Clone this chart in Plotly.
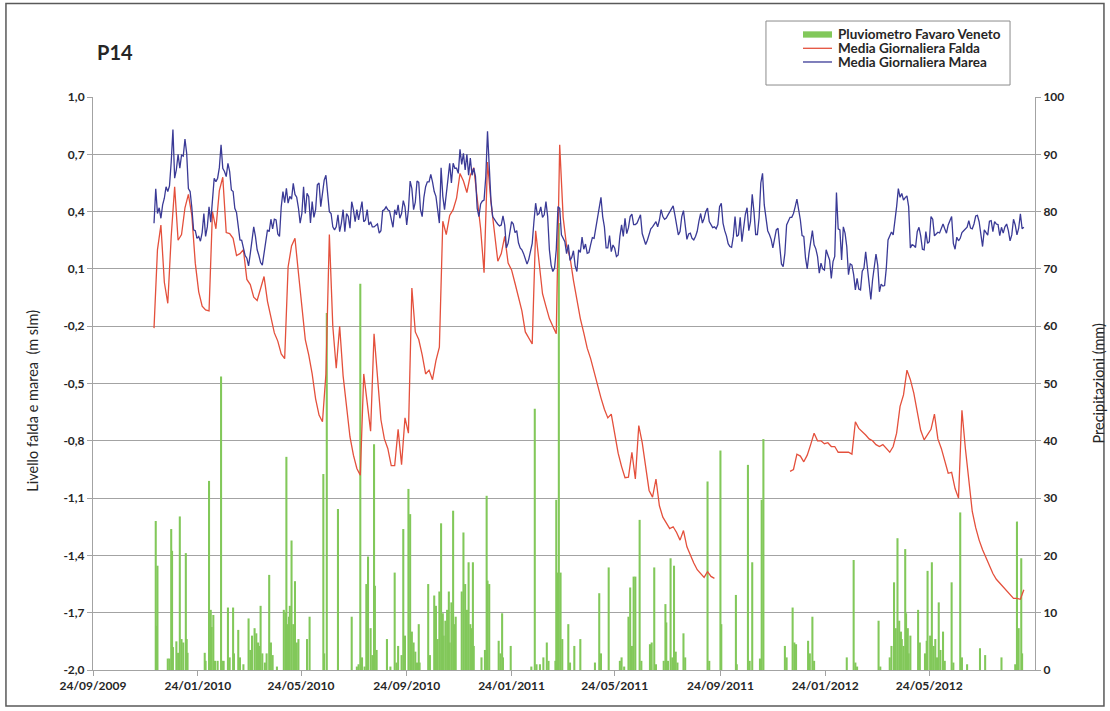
import pandas as pd
import plotly.graph_objects as go

# ---- data -------------------------------------------------------------
origine = pd.Timestamp("2009-09-24")
inizio_serie = pd.Timestamp("2009-12-04")

# Media giornaliera marea (m slm), one value every 2 days from 04/12/2009
marea = [
    0.339, 0.52, 0.39, 0.42, 0.365, 0.435, 0.47, 0.53, 0.505, 0.535,
    0.66, 0.83, 0.575, 0.62, 0.70, 0.627, 0.696, 0.69, 0.78, 0.705,
    0.52, 0.505, 0.42, 0.305, 0.30, 0.26, 0.27, 0.245, 0.29, 0.39,
    0.27, 0.32, 0.425, 0.345, 0.46, 0.575, 0.557, 0.575, 0.63, 0.75,
    0.627, 0.61, 0.583, 0.653, 0.61, 0.513, 0.505, 0.417, 0.395, 0.33,
    0.252, 0.25, 0.20, 0.17, 0.156, 0.116, 0.18, 0.26, 0.32, 0.27,
    0.20, 0.17, 0.133, 0.12, 0.18, 0.26, 0.304, 0.295, 0.36, 0.31,
    0.36, 0.356, 0.283, 0.27, 0.425, 0.505, 0.447, 0.522, 0.444, 0.48,
    0.465, 0.548, 0.49, 0.475, 0.42, 0.34, 0.39, 0.53, 0.39, 0.496,
    0.478, 0.34, 0.452, 0.37, 0.41, 0.54, 0.55, 0.426, 0.513, 0.565,
    0.59, 0.49, 0.40, 0.39, 0.32, 0.304, 0.32, 0.383, 0.295, 0.34,
    0.41, 0.295, 0.39, 0.374, 0.313, 0.452, 0.41, 0.347, 0.41, 0.356,
    0.41, 0.452, 0.347, 0.356, 0.41, 0.33, 0.347, 0.32, 0.32,
    0.33, 0.335, 0.287, 0.30, 0.405, 0.41, 0.425, 0.41, 0.404, 0.356,
    0.318, 0.41, 0.383, 0.435, 0.365, 0.39, 0.457, 0.425, 0.33, 0.41,
    0.56, 0.52, 0.41, 0.45, 0.56, 0.553, 0.41, 0.374, 0.475, 0.53,
    0.556, 0.556, 0.595, 0.556, 0.505, 0.48, 0.41, 0.34, 0.63, 0.48,
    0.41, 0.505, 0.57, 0.653, 0.55, 0.653, 0.627, 0.627, 0.60, 0.726,
    0.647, 0.705, 0.618, 0.70, 0.59, 0.68, 0.59, 0.627, 0.583, 0.417,
    0.374, 0.44, 0.455, 0.46, 0.583, 0.82, 0.618, 0.46, 0.374, 0.356,
    0.346, 0.334, 0.325, 0.33, 0.377, 0.33, 0.21, 0.235, 0.295, 0.347,
    0.335, 0.29, 0.30, 0.237, 0.21, 0.20, 0.18, 0.152, 0.125, 0.15,
    0.203, 0.234, 0.347, 0.444, 0.383, 0.39, 0.425, 0.37, 0.383, 0.452,
    0.374, 0.20, 0.12, 0.086, 0.105, 0.20, 0.426, 0.417, 0.278, 0.26,
    0.243, 0.18, 0.227, 0.144, 0.16, 0.195, 0.116, 0.086, 0.20, 0.186,
    0.266, 0.203, 0.23, 0.182, 0.186, 0.227, 0.264, 0.26, 0.313, 0.383,
    0.44,
    0.475, 0.374, 0.32, 0.21, 0.21, 0.274, 0.19, 0.225, 0.208, 0.165,
    0.173, 0.27, 0.33, 0.27, 0.365, 0.285, 0.316, 0.374, 0.387, 0.332,
    0.332, 0.34, 0.367, 0.383, 0.285, 0.26, 0.228, 0.25, 0.287, 0.31,
    0.32, 0.332, 0.347, 0.32, 0.356, 0.41, 0.374, 0.36, 0.366, 0.383,
    0.40, 0.42, 0.43, 0.383, 0.332, 0.278, 0.295, 0.374, 0.405, 0.33,
    0.255, 0.283, 0.287, 0.26, 0.252, 0.27, 0.297, 0.35, 0.39, 0.34,
    0.364, 0.40, 0.418, 0.348, 0.33, 0.316, 0.32, 0.31, 0.332, 0.426,
    0.444, 0.34, 0.30, 0.273, 0.232, 0.217, 0.213, 0.27, 0.374, 0.27,
    0.278, 0.37, 0.243, 0.304, 0.386, 0.42, 0.30, 0.347, 0.49, 0.40,
    0.28, 0.28, 0.368, 0.55, 0.60, 0.435, 0.368, 0.30, 0.28, 0.255,
    0.21, 0.252, 0.304, 0.313, 0.20, 0.126, 0.112, 0.182, 0.33, 0.355,
    0.37, 0.37, 0.39, 0.426, 0.465, 0.41, 0.356, 0.274, 0.27, 0.156,
    0.10, 0.18, 0.243, 0.30, 0.226, 0.205, 0.165, 0.078, 0.13, 0.10,
    0.094,
    0.20, 0.173, 0.147, 0.05, 0.138, 0.165, 0.50, 0.31, 0.304, 0.147,
    0.32, 0.287, 0.217, 0.07, 0.126, 0.12, 0.07, -0.01, 0.05, -0.005,
    -0.01, 0.088, 0.104, 0.19, 0.095, 0.025, -0.06, 0.042, 0.12, 0.178,
    0.12, -0.02, 0.02, 0.01, 0.013, 0.104, 0.252, 0.278, 0.293, 0.278,
    0.34, 0.426, 0.52, 0.475, 0.495, 0.46, 0.473, 0.482, 0.426, 0.21,
    0.227, 0.222, 0.212, 0.295, 0.318, 0.273, 0.203, 0.20, 0.295, 0.234,
    0.243, 0.374, 0.36, 0.273, 0.283, 0.292, 0.288, 0.318, 0.335, 0.31,
    0.287, 0.33, 0.353, 0.374, 0.234, 0.203, 0.266, 0.247, 0.26, 0.29,
    0.30, 0.31, 0.318, 0.353, 0.314, 0.31, 0.335, 0.377, 0.38, 0.347,
    0.273, 0.217, 0.304, 0.29, 0.277, 0.35, 0.353, 0.295, 0.347, 0.335,
    0.332, 0.274, 0.318, 0.287, 0.32, 0.335, 0.30, 0.247, 0.278, 0.36,
    0.33, 0.278, 0.313, 0.388, 0.31, 0.318,
]

# Media giornaliera falda (m slm), one value every 4 days from 04/12/2009;
# None marks the period without measurements
falda = [
    -0.21, 0.20, 0.33, 0.03, -0.08, 0.27, 0.53, 0.25, 0.28, 0.42,
    0.49, 0.38, 0.13, -0.02, -0.095, -0.115, -0.12, 0.40, 0.31, 0.51,
    0.58, 0.29, 0.285, 0.26, 0.17, 0.18, 0.20, 0.045, 0.018, -0.048,
    -0.065, 0.0, 0.06, -0.07, -0.16, -0.235, -0.278, -0.345, -0.37, 0.11,
    0.22, 0.26, 0.08, -0.11, -0.27, -0.35, -0.45, -0.58, -0.665, -0.70,
    -0.45, 0.28, -0.2, -0.42, -0.2, -0.46, -0.63, -0.78, -0.875, -0.945,
    -0.98, -0.45, -0.6, -0.75, -0.24, -0.47, -0.69, -0.79, -0.84, -0.93,
    -0.93, -0.74, -0.925, -0.68, -0.76, 0.0, -0.23, -0.27, -0.35, -0.45,
    -0.43, -0.48, -0.38, -0.31, 0.35, 0.28, 0.38, 0.41, 0.47, 0.60,
    0.56, 0.50, 0.59, 0.63, 0.46, 0.31, 0.08, 0.66, 0.45, 0.30,
    0.14, 0.18, 0.27, 0.13, 0.095, 0.025, -0.05, -0.12, -0.23, -0.265,
    -0.293, 0.30, 0.12, -0.03, -0.096, -0.16, -0.2, -0.24, 0.75, 0.37,
    0.22, 0.16, 0.04, -0.06, -0.16, -0.235, -0.315, -0.37, -0.44, -0.515,
    -0.575, -0.635, -0.68, -0.66, -0.775, -0.865, -0.935, -0.993, -0.99, -0.86,
    -1.0, -0.72, -0.81, -0.95, -1.06, -1.095, -1.0, -1.14, -1.20, -1.23,
    -1.26, -1.25, -1.28, -1.32, -1.27, -1.355, -1.40, -1.44, -1.475, -1.495,
    -1.515, -1.485, -1.51, -1.52,
    None, None, None, None, None, None, None, None, None, None,
    None, None, None, None, None, None, None, None, None, None, None,
    -0.96, -0.95, -0.87, -0.88, -0.91, -0.875, -0.82, -0.76, -0.80, -0.80,
    -0.815, -0.81, -0.83, -0.83, -0.86, -0.86, -0.86, -0.86, -0.87, -0.70,
    -0.735, -0.75, -0.77, -0.79, -0.80, -0.82, -0.83, -0.82, -0.84, -0.86,
    -0.83, -0.76, -0.62, -0.56, -0.43, -0.48, -0.55, -0.65, -0.745, -0.795,
    -0.77, -0.74, -0.66, -0.79, -0.84, -0.91, -0.97, -0.965, -1.05, -1.10,
    -0.64, -0.84, -1.0, -1.17, -1.255, -1.32, -1.37, -1.415, -1.455, -1.495,
    -1.525, -1.545, -1.565, -1.585, -1.605, -1.625, -1.625, -1.63, -1.58,
]

# Pluviometro Favaro Veneto: days since 24/09/2009 and daily rain (mm)
pioggia_giorni = [
    73, 74, 75, 87, 89, 91, 92, 93, 97, 99, 101, 103, 105, 108, 109, 110,
    130, 131, 135, 137, 138, 140, 142, 145, 149, 150, 152, 157, 159, 163, 164,
    169, 171, 175, 181, 183, 185, 188, 190, 192, 194, 195, 197, 200, 202, 205,
    207, 209, 214, 222, 224, 225, 226, 228, 229, 231, 233, 235, 237, 239, 249,
    252, 268, 269, 272, 285, 301, 307, 309, 311, 313, 316, 318, 320, 323, 325,
    327, 328, 330, 342, 346, 351, 353, 355, 359, 361, 363, 367, 369, 371, 373,
    375, 377, 379, 380, 390, 392, 397, 399, 401, 403, 405, 407, 408, 410, 412,
    414, 415, 417, 419, 420, 422, 429, 431, 433, 435, 437, 439, 441, 442, 443,
    452, 456, 458, 459, 461, 472, 474, 476, 477, 486, 510, 514, 516, 520, 524,
    528, 530, 538, 539, 540, 542, 544, 546, 553, 555, 560, 567, 584, 589, 591,
    600, 613, 615, 618, 623, 625, 627, 629, 631, 636, 638, 648, 650, 653, 655,
    664, 666, 667, 669, 672, 674, 676, 678, 680, 687, 689, 715, 717, 730, 731,
    748, 749, 762, 764, 767, 776, 778, 780, 805, 807, 814, 816, 818, 832, 834,
    837, 839, 877, 885, 887, 889, 914, 916, 927, 929, 932, 934, 936, 938, 940,
    941, 943, 945, 946, 948, 949, 951, 960, 961, 962, 968, 970, 971, 974, 976,
    978, 980, 982, 984, 986, 989, 991, 999, 1001, 1009, 1011, 1017, 1032, 1038,
    1057, 1073, 1075, 1077, 1080, 1081,
]
pioggia_mm = [
    26, 7.7, 18.2, 2, 2, 24.6, 20.8, 4, 5, 3, 26.8, 5.4, 4.8, 20.4, 5.4, 3,
    3, 1.6, 33, 10.5, 7.5, 9.6, 1.6, 1.6, 51.2, 1.6, 1.6, 10.9, 2.2, 10.9, 2.9,
    7, 2.2, 1, 9, 3.5, 6, 7.3, 6.4, 4.8, 4.2, 11.2, 2.9, 1.3, 2.9, 16.6,
    4.8, 2.6, 0.6, 10.5, 10, 37.2, 8, 9.3, 11.2, 22.6, 8, 15.5, 4.8, 5.4, 5.4,
    9.3, 34.2, 2.9, 62.3, 28.1, 9.3, 0.6, 1, 67.4, 2.2, 0.6, 15, 19.8, 7.3, 2.6,
    39.4, 14.7, 3.5, 5.4, 0.6, 17, 1.3, 4.2, 2.6, 24.6, 6, 31.6, 27.2, 6.7, 4.8,
    3.2, 1.3, 8, 1.3, 15, 2.6, 13, 11.2, 5.4, 13.7, 25.6, 9.9, 6, 8.6, 10.5,
    13.7, 4.8, 11.8, 27.8, 8, 9.3, 13.7, 24, 15, 10.5, 18.8, 8, 7.3, 18.8, 4.2,
    2.2, 3.5, 30.4, 15.6, 15, 5.1, 2.9, 9.9, 2.2, 4.2, 0.6, 45.6, 1, 1, 2.2,
    4.8, 1.6, 1.6, 29.7, 17, 78, 17, 5.4, 8, 1.3, 4.2, 5.4, 1.3, 13.4, 2.9,
    17.9, 1.6, 2.2, 0.6, 9.3, 14.4, 4.2, 16.3, 16.3, 26.2, 1.6, 4.5, 4.8, 17.9, 1,
    1.6, 11.5, 8.3, 1.6, 19.5, 2.2, 18.2, 3.2, 1.3, 6.4, 2.2, 32.9, 1.6, 38.3, 8,
    13.1, 1, 35.8, 1.6, 18.8, 2, 29.7, 40.3, 4.2, 2.2, 10.9, 4.8, 4.5, 5.1, 2.9,
    9.3, 1.6, 2.2, 19.2, 1.3, 0.6, 8.6, 0.6, 2.2, 4.2, 15.3, 7.3, 23, 8.6, 6.7,
    5.4, 4.2, 21.1, 9.9, 7.3, 2.9, 6, 10.5, 2.2, 4.8, 2.9, 5.1, 17.3, 6, 18.8,
    4.2, 5.4, 2.2, 11.8, 3.5, 6.7, 1.6, 15.3, 1.3, 27.5, 2.2, 1, 3.8, 2.6,
    2.2, 1, 25.9, 7.3, 19.5, 2.9,
]

# axis ticks
date_tick = ["2009-09-24", "2010-01-24", "2010-05-24", "2010-09-24", "2011-01-24",
             "2011-05-24", "2011-09-24", "2012-01-24", "2012-05-24"]
livelli_tick = [-2.0, -1.7, -1.4, -1.1, -0.8, -0.5, -0.2, 0.1, 0.4, 0.7, 1.0]
mm_tick = [0, 10, 20, 30, 40, 50, 60, 70, 80, 90, 100]

nomi_serie = ["Pluviometro Favaro Veneto", "Media Giornaliera Falda",
              "Media Giornaliera Marea"]

# ---- build ------------------------------------------------------------
date_marea = pd.date_range(inizio_serie, periods=len(marea), freq="2D")
date_falda = pd.date_range(inizio_serie, periods=len(falda), freq="4D")
date_pioggia = origine + pd.to_timedelta(pioggia_giorni, unit="D")

VERDE = "#82C85A"
ROSSO = "#E4503C"
BLU = "#3A3A96"
GRIGIO = "#A3A3A3"
TESTO = "#262626"
FONT = "Lato"

fig = go.Figure()
fig.add_trace(go.Bar(
    x=date_pioggia, y=pioggia_mm, name=nomi_serie[0],
    marker=dict(color=VERDE, line=dict(width=0)),
    width=2.4 * 86400000, yaxis="y",
))
fig.add_trace(go.Scatter(
    x=date_falda, y=falda, name=nomi_serie[1], mode="lines",
    line=dict(color=ROSSO, width=1.3), connectgaps=False, yaxis="y2",
))
fig.add_trace(go.Scatter(
    x=date_marea, y=marea, name=nomi_serie[2], mode="lines",
    line=dict(color=BLU, width=1.3), yaxis="y2",
))

tick_font = dict(family=FONT, size=12, color=TESTO, weight="bold")

# legend box drawn in paper coordinates (upper right, above the plot area)
leg_x0, leg_x1, leg_y0, leg_y1 = 0.7144, 0.9735, 1.0209, 1.1326
sw_x0, sw_x1 = 0.7537, 0.7845
row_y = [1.1091, 1.0850, 1.0611]
legend_shapes = [
    dict(type="rect", xref="paper", yref="paper",
         x0=leg_x0, x1=leg_x1, y0=leg_y0, y1=leg_y1,
         line=dict(color="#8C8C8C", width=1), fillcolor="white"),
    dict(type="rect", xref="paper", yref="paper",
         x0=sw_x0, x1=sw_x1, y0=row_y[0] - 0.0055, y1=row_y[0] + 0.0055,
         line=dict(width=0), fillcolor=VERDE),
    dict(type="line", xref="paper", yref="paper",
         x0=sw_x0, x1=sw_x1, y0=row_y[1], y1=row_y[1],
         line=dict(color=ROSSO, width=1.3)),
    dict(type="line", xref="paper", yref="paper",
         x0=sw_x0, x1=sw_x1, y0=row_y[2], y1=row_y[2],
         line=dict(color=BLU, width=1.3)),
]
legend_labels = [
    dict(text=nome, x=0.7887, y=yy, xref="paper", yref="paper",
         xanchor="left", yanchor="middle", showarrow=False,
         font=dict(family=FONT, size=13.5, color=TESTO, weight="bold"))
    for nome, yy in zip(nomi_serie, row_y)
]

fig.update_layout(
    width=1110, height=711, autosize=False,
    margin=dict(l=93, r=75, t=97, b=41),
    paper_bgcolor="white", plot_bgcolor="white",
    font=dict(family=FONT, color=TESTO),
    showlegend=False,
    xaxis=dict(
        type="date", range=["2009-09-24", "2012-09-24"],
        tickvals=date_tick,
        ticktext=[pd.Timestamp(d).strftime("%d/%m/%Y") for d in date_tick],
        tickfont=dict(family=FONT, size=12, color=TESTO, weight="bold"),
        showgrid=False, showline=True, linecolor=GRIGIO, linewidth=1,
        ticks="outside", ticklen=5, tickcolor=GRIGIO, zeroline=False,
    ),
    yaxis=dict(
        side="right", range=[0, 100], tickvals=mm_tick,
        tickfont=tick_font,
        showgrid=True, gridcolor=GRIGIO, gridwidth=1.2,
        showline=True, linecolor=GRIGIO, linewidth=1,
        ticks="outside", ticklen=5, tickcolor=GRIGIO, zeroline=False,
    ),
    yaxis2=dict(
        overlaying="y", side="left", range=[-2.0, 1.0],
        tickvals=livelli_tick,
        ticktext=[f"{v:.1f}".replace(".", ",") for v in livelli_tick],
        tickfont=tick_font,
        showgrid=False, showline=True, linecolor=GRIGIO, linewidth=1,
        ticks="outside", ticklen=5, tickcolor=GRIGIO, zeroline=False,
    ),
    annotations=[
        dict(text="P14", x=0.002, y=1.0785, xref="paper", yref="paper",
             xanchor="left", yanchor="middle", showarrow=False,
             font=dict(family=FONT, size=20, color=TESTO, weight="bold")),
        dict(text="Livello falda e marea  (m slm)", x=-0.0637, y=0.47,
             xref="paper", yref="paper", textangle=-90,
             xanchor="center", yanchor="middle", showarrow=False,
             font=dict(family=FONT, size=14.5, color=TESTO)),
        dict(text="Precipitazioni (mm)", x=1.0669, y=0.5,
             xref="paper", yref="paper", textangle=-90,
             xanchor="center", yanchor="middle", showarrow=False,
             font=dict(family=FONT, size=14.5, color=TESTO)),
    ] + legend_labels,
    shapes=[
        dict(type="rect", xref="paper", yref="paper",
             x0=-0.0924, x1=1.0732, y0=-0.0628, y1=1.163,
             line=dict(color="#595959", width=1.5), fillcolor="rgba(0,0,0,0)",
             layer="below"),
    ] + legend_shapes,
)

fig.write_html("out.html")
